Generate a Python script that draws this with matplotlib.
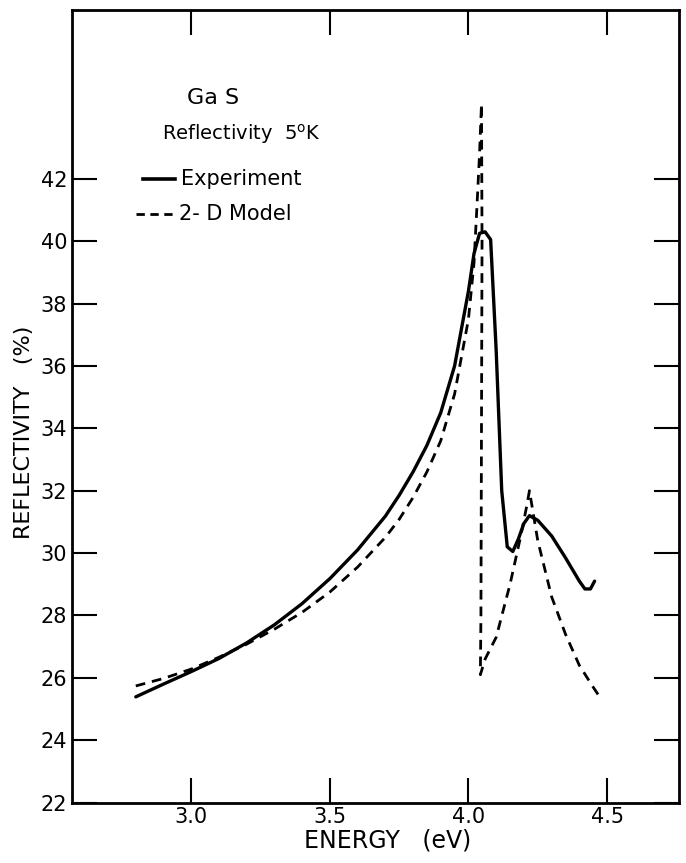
import matplotlib.pyplot as plt
import numpy as np

### data ###
exp_energy = [2.80, 2.90, 3.00, 3.10, 3.20, 3.30, 3.40, 3.50, 3.60, 3.70, 3.75, 3.80, 3.85,
              3.90, 3.95, 4.00, 4.02, 4.04, 4.06, 4.08, 4.10, 4.12, 4.14, 4.16, 4.18,
              4.20, 4.22, 4.25, 4.30, 4.35, 4.40, 4.42, 4.44, 4.455]
exp_refl = [25.39, 25.80, 26.20, 26.62, 27.12, 27.70, 28.38, 29.18, 30.10, 31.18, 31.85, 32.60, 33.45,
            34.50, 36.00, 38.40, 39.60, 40.25, 40.30, 40.05, 36.50, 32.00, 30.20, 30.05, 30.45,
            30.95, 31.20, 31.05, 30.55, 29.85, 29.10, 28.85, 28.85, 29.10]

model_energy = [2.80, 2.90, 3.00, 3.10, 3.20, 3.30, 3.40, 3.50, 3.60, 3.70, 3.75, 3.80, 3.85,
                3.90, 3.95, 4.00, 4.02, 4.03, 4.04, 4.047, 4.049, 4.047, 4.045, 4.043,
                4.06, 4.10, 4.15, 4.19, 4.21, 4.22, 4.25, 4.30, 4.35, 4.40, 4.45, 4.48]
model_refl = [25.74, 25.98, 26.28, 26.66, 27.08, 27.56, 28.10, 28.75, 29.55, 30.50, 31.08, 31.78, 32.60,
              33.60, 35.10, 37.50, 39.30, 41.00, 42.80, 44.40, 40.00, 34.00, 28.00, 26.10,
              26.60, 27.30, 29.00, 30.60, 31.50, 32.00, 30.40, 28.60, 27.40, 26.40, 25.70, 25.30]

x_ticks = [3.0, 3.5, 4.0, 4.5]
y_ticks = [22, 24, 26, 28, 30, 32, 34, 36, 38, 40, 42]

fig = plt.figure(figsize=(6.86, 8.63), dpi=100)
ax = fig.add_axes([0.105, 0.07, 0.885, 0.918])

ax.plot(exp_energy, exp_refl, color="black", lw=2.4, solid_capstyle="round",
        solid_joinstyle="round")
ax.plot(model_energy, model_refl, color="black", lw=2.0, linestyle=(0, (3.5, 2.5)))

ax.set_xlim(2.57, 4.76)
ax.set_ylim(22, 47.4)
ax.set_xticks(x_ticks)
ax.set_xticklabels(["3.0", "3.5", "4.0", "4.5"])
ax.set_yticks(y_ticks)
ax.tick_params(direction="in", length=18, width=1.5, labelsize=15,
               top=True, right=True, labelright=False, labeltop=False)
for s in ax.spines.values():
    s.set_linewidth(2)

ax.set_xlabel("ENERGY   (eV)", fontsize=17)
ax.xaxis.set_label_coords(0.52, -0.033)
ax.set_ylabel("REFLECTIVITY   (%)", fontsize=16)
ax.yaxis.set_label_coords(-0.062, 0.467)

# legend and labels drawn by hand like in the scan
ax.text(3.08, 44.6, "Ga S", fontsize=16, ha="center", va="center")
ax.text(3.18, 43.44, "Reflectivity  5$^{\\mathrm{o}}$K", fontsize=14, ha="center", va="center")
ax.plot([2.827, 2.94], [42.0, 42.0], color="black", lw=2.6)
ax.text(2.962, 42.0, "Experiment", fontsize=15, va="center")
ax.plot([2.80, 2.94], [40.88, 40.88], color="black", lw=2.0, linestyle=(0, (3, 2)))
ax.text(2.955, 40.88, "2- D Model", fontsize=15, va="center")

fig.savefig("out.png", dpi=100)
